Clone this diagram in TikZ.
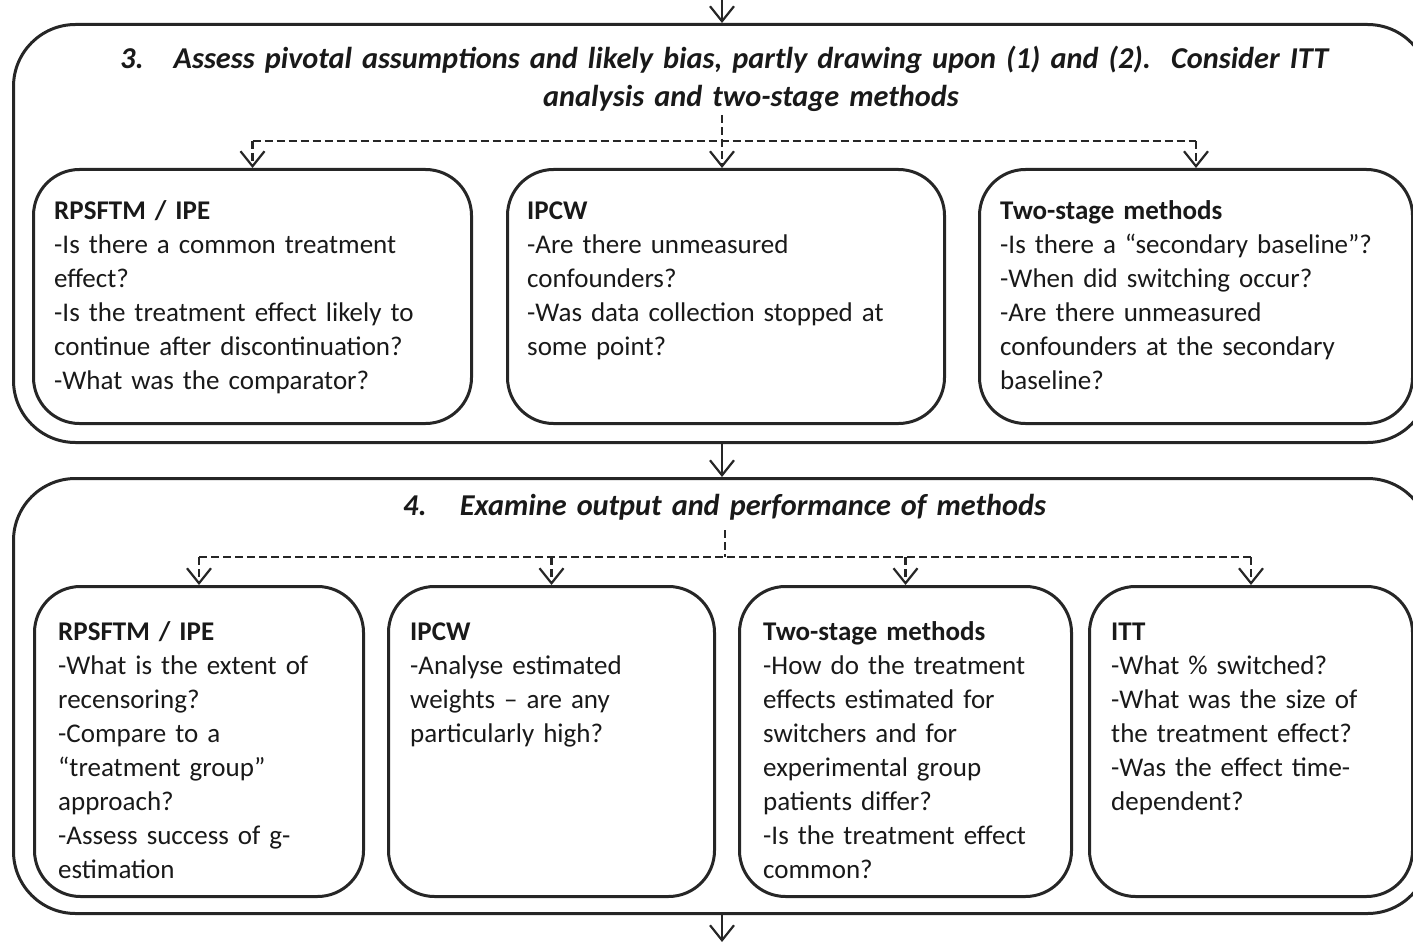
\documentclass[tikz,border=0pt]{standalone}
\usepackage{fontspec}
\setmainfont{Carlito}
\usetikzlibrary{arrows.meta}
\begin{document}
\begin{tikzpicture}[x=1pt,y=-1pt,
  outerbox/.style={draw=black!85, line width=3pt, rounded corners=62pt, anchor=north west, inner sep=0pt},
  innerbox/.style={draw=black!85, line width=3pt, rounded corners=46pt, anchor=north west, inner sep=0pt},
  arr/.style={-{Straight Barb[length=15pt,width=24pt,line width=2.2pt]}},
  solidline/.style={draw=black!85, line width=2.2pt},
  dashline/.style={draw=black!85, line width=2.5pt, dash pattern=on 8pt off 4pt},
  body/.style={anchor=base west, inner sep=0pt, align=left, font=\fontsize{27}{34}\selectfont, text=black!90},
  ttl/.style={inner sep=0pt, font=\fontsize{30.3}{38}\selectfont\bfseries\itshape, text=black!90}
]
\useasboundingbox (0,0) rectangle (1413,944);

% outer boxes
\node[outerbox, minimum width=1416pt, minimum height=418pt] (o3) at (12,23) {};
\node[outerbox, minimum width=1416pt, minimum height=435pt] (o4) at (12,477) {};

% titles
\node[ttl, anchor=base west] (n3) at (120,69) {3.};
\node[ttl, anchor=base, text width=1260pt, align=center] (ttl3) at (751,69)
  {Assess pivotal assumptions and likely bias, partly drawing upon (1) and (2).\ \ Consider ITT\\analysis and two-stage methods};
\node[ttl, anchor=base west] (n4) at (403,515) {4.};
\node[ttl, anchor=base, text width=1000pt, align=center] (ttl4) at (753,515)
  {Examine output and performance of methods};

% row 1 boxes
\node[innerbox, minimum width=438pt, minimum height=254pt] (b1) at (32,168) {};
\node[innerbox, minimum width=437pt, minimum height=254pt] (b2) at (506,168) {};
\node[innerbox, minimum width=433pt, minimum height=254pt] (b3) at (978,168) {};

\node[body, text width=410pt] (t1) at (54,219) {{\bfseries RPSFTM / IPE}\\
-Is there a common treatment\\
effect?\\
-Is the treatment effect likely to\\
continue after discontinuation?\\
-What was the comparator?};
\node[body, text width=410pt] (t2) at (527,219) {{\bfseries IPCW}\\
-Are there unmeasured\\
confounders?\\
-Was data collection stopped at\\
some point?};
\node[body, text width=405pt] (t3) at (1000,219) {{\bfseries Two-stage methods}\\
-Is there a “secondary baseline”?\\
-When did switching occur?\\
-Are there unmeasured\\
confounders at the secondary\\
baseline?};

% row 2 boxes
\node[innerbox, minimum width=329pt, minimum height=310pt] (c1) at (33,585) {};
\node[innerbox, minimum width=326pt, minimum height=310pt] (c2) at (387,585) {};
\node[innerbox, minimum width=332pt, minimum height=310pt] (c3) at (738,585) {};
\node[innerbox, minimum width=323pt, minimum height=310pt] (c4) at (1088,585) {};

\node[body, text width=300pt] (u1) at (58,640) {{\bfseries RPSFTM / IPE}\\
-What is the extent of\\
recensoring?\\
-Compare to a\\
“treatment group”\\
approach?\\
-Assess success of g-\\
estimation};
\node[body, text width=300pt] (u2) at (410,640) {{\bfseries IPCW}\\
-Analyse estimated\\
weights – are any\\
particularly high?};
\node[body, text width=300pt] (u3) at (763,640) {{\bfseries Two-stage methods}\\
-How do the treatment\\
effects estimated for\\
switchers and for\\
experimental group\\
patients differ?\\
-Is the treatment effect\\
common?};
\node[body, text width=295pt] (u4) at (1111,640) {{\bfseries ITT}\\
-What \% switched?\\
-What was the size of\\
the treatment effect?\\
-Was the effect time-\\
dependent?};

% solid arrows between sections
\coordinate (top) at (722,0);
\coordinate (bot) at (722,942);
\draw[solidline, arr] (top) -- (top |- o3.north);
\draw[solidline, arr] (top |- o3.south) -- (top |- o4.north);
\draw[solidline, arr] (top |- o4.south) -- (bot);

% dashed connectors, section 3
\coordinate (d3) at (722,115);
\coordinate (h3) at (722,141);
\draw[dashline, arr] (d3) -- (d3 |- b2.north);
\draw[dashline] (b1.north |- h3) -- (b3.north |- h3);
\draw[dashline, arr] (b1.north |- h3) -- (b1.north);
\draw[dashline, arr] (b3.north |- h3) -- (b3.north);

% dashed connectors, section 4
\coordinate (d4) at (725,530);
\coordinate (h4) at (725,557);
\draw[dashline] (d4) -- (h4);
\draw[dashline] (c1.north |- h4) -- (c4.north |- h4);
\draw[dashline, arr] (c1.north |- h4) -- (c1.north);
\draw[dashline, arr] (c2.north |- h4) -- (c2.north);
\draw[dashline, arr] (c3.north |- h4) -- (c3.north);
\draw[dashline, arr] (c4.north |- h4) -- (c4.north);
\end{tikzpicture}
\end{document}
